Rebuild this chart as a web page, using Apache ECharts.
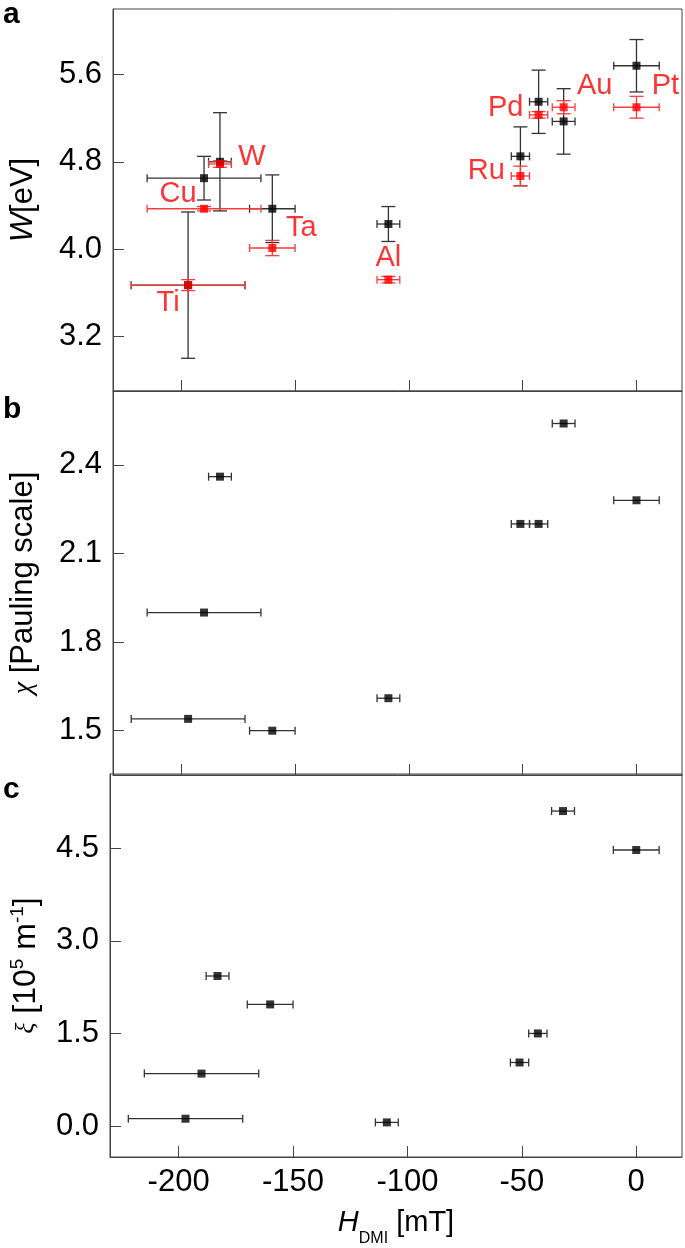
<!DOCTYPE html>
<html>
<head>
<meta charset="utf-8">
<script src="https://cdn.jsdelivr.net/npm/echarts@6/dist/echarts.min.js"></script>
<style>
html,body{margin:0;padding:0;background:#fff;}
#chart{width:685px;height:1248px;}
</style>
</head>
<body>
<div id="chart"></div>
<script>
// ---- data ----
const metals = ['Ti','Cu','W','Ta','Al','Ru','Pd','Au','Pt'];
const hDmi = [-197,-190,-183,-160,-109,-51,-43,-32,0];
const hDmiErr = [25,25,5,10,5,4,4,5,10];
const wMeasured = [3.67,4.65,4.80,4.37,4.23,4.85,5.35,5.17,5.68];
const wMeasuredErr = [0.67,0.20,0.45,0.31,0.16,0.27,0.29,0.30,0.24];
const wLiterature = [3.67,4.37,4.78,4.01,3.72,4.67,5.23,5.30,5.30];
const wLiteratureErr = [0.05,0.02,0.03,0.07,0.03,0.09,0.03,0.06,0.10];
const chi = [1.54,1.90,2.36,1.50,1.61,2.20,2.20,2.54,2.28];
const xi = [0.12,0.85,2.43,1.97,0.06,1.03,1.50,5.10,4.47];
const xTicks = [-200,-150,-100,-50,0];
const wTicks = [3.2,4.0,4.8,5.6];
const chiTicks = [1.5,1.8,2.1,2.4];
const xiTicks = [0,1.5,3.0,4.5];

// ---- styling ----
const FONT = 'Liberation Sans, Arial, sans-serif';
const AXIS_COLOR = '#444';
const labelOffsets = {Ti:[-20,18], Cu:[-26,-15], W:[32,-7], Ta:[29,-20], Al:[0,-22], Ru:[-34,-5], Pd:[-33,-7], Au:[31,-21], Pt:[29,-21]};

function errRender(color, lw, capHalfW, capHalfH) {
  return function (params, api) {
    const x = api.value(0), y = api.value(1), xe = api.value(2), ye = api.value(3);
    const style = {stroke: color, lineWidth: lw, fill: null};
    const ch = [];
    const ln = (a, b, c, d) => ch.push({type: 'line', shape: {x1: a, y1: b, x2: c, y2: d}, style: style});
    if (xe > 0) {
      const p1 = api.coord([x - xe, y]), p2 = api.coord([x + xe, y]);
      ln(p1[0], p1[1], p2[0], p2[1]);
      ln(p1[0], p1[1] - capHalfH, p1[0], p1[1] + capHalfH);
      ln(p2[0], p2[1] - capHalfH, p2[0], p2[1] + capHalfH);
    }
    if (ye > 0) {
      const q1 = api.coord([x, y - ye]), q2 = api.coord([x, y + ye]);
      ln(q1[0], q1[1], q2[0], q2[1]);
      ln(q1[0] - capHalfW, q1[1], q1[0] + capHalfW, q1[1]);
      ln(q2[0] - capHalfW, q2[1], q2[0] + capHalfW, q2[1]);
    }
    return {type: 'group', children: ch};
  };
}

const grids = [
  {left: 108, right: 3, top: 9, height: 382},
  {left: 108, right: 3, top: 391, height: 384},
  {left: 108, right: 3, top: 774, height: 383}
].map(g => Object.assign(g, {show: true, borderColor: AXIS_COLOR, borderWidth: 1, backgroundColor: 'transparent'}));

function xAxisFor(i, showLabels) {
  const ax = {
    type: 'value', gridIndex: i, min: -230, max: 20,
    axisLine: {show: true, onZero: false, lineStyle: {color: AXIS_COLOR, width: 1}},
    axisTick: {show: true, inside: true, length: 11, customValues: xTicks, lineStyle: {color: AXIS_COLOR, width: 1}},
    axisLabel: {show: showLabels, customValues: xTicks, margin: 10, color: '#000', fontSize: 31, fontFamily: FONT},
    splitLine: {show: false}
  };
  if (showLabels) {
    ax.name = '{it|H}{sub|DMI}{n| [mT]}';
    ax.nameLocation = 'middle';
    ax.nameGap = 42;
    ax.nameTextStyle = {
      color: '#000', fontFamily: FONT, fontSize: 29,
      rich: {
        it: {fontStyle: 'italic', fontSize: 29, fontFamily: FONT, lineHeight: 48, color: '#000'},
        n: {fontSize: 29, fontFamily: FONT, lineHeight: 48, color: '#000'},
        sub: {fontSize: 16, fontFamily: FONT, lineHeight: 16, verticalAlign: 'bottom', color: '#000'}
      }
    };
  }
  return ax;
}

function yAxisFor(i, min, max, ticks, name, nameGap, rich) {
  return {
    type: 'value', gridIndex: i, min: min, max: max,
    axisLine: {show: true, onZero: false, lineStyle: {color: AXIS_COLOR, width: 1}},
    axisTick: {show: true, inside: true, length: 11, customValues: ticks, lineStyle: {color: AXIS_COLOR, width: 1}},
    axisLabel: {customValues: ticks, margin: 11, color: '#000', fontSize: 31, fontFamily: FONT,
      formatter: v => v.toFixed(1)},
    splitLine: {show: false},
    name: name, nameLocation: 'middle', nameRotate: 90, nameGap: nameGap,
    nameTextStyle: {color: '#000', fontFamily: FONT, fontSize: 31, rich: rich}
  };
}

const errBlackA = hDmi.map((x, i) => [x, wMeasured[i], hDmiErr[i], wMeasuredErr[i]]);
const errRedA = hDmi.map((x, i) => [x, wLiterature[i], hDmiErr[i], wLiteratureErr[i]]);
const errB = hDmi.map((x, i) => [x, chi[i], hDmiErr[i], 0]);
const errC = hDmi.map((x, i) => [x, xi[i], hDmiErr[i], 0]);

const BLACK_ERR = '#333';
const RED_ERR = '#ff3a3a';

const option = {
  animation: false,
  backgroundColor: '#fff',
  grid: grids,
  xAxis: [xAxisFor(0, false), xAxisFor(1, false), xAxisFor(2, true)],
  yAxis: [
    yAxisFor(0, 2.7, 6.2, wTicks, '{it|W}[eV]', 74,
      {it: {fontStyle: 'italic', fontSize: 31, fontFamily: FONT, color: '#000'}}),
    yAxisFor(1, 1.35, 2.65, chiTicks, '{gr|χ} [Pauling scale]', 74,
      {gr: {fontStyle: 'italic', fontSize: 28, fontFamily: 'Liberation Serif, serif', color: '#000'}}),
    yAxisFor(2, -0.5, 5.7, xiTicks, '{gr|ξ}{n| [10}{sup|5}{n| m}{sup|-1}{n|]}', 66,
      {gr: {fontStyle: 'italic', fontSize: 26, fontFamily: 'Liberation Serif, serif', lineHeight: 36, color: '#000'},
       n: {fontSize: 32, fontFamily: FONT, lineHeight: 36, color: '#000'},
       sup: {fontSize: 19, fontFamily: FONT, lineHeight: 19, verticalAlign: 'top', color: '#000'}})
  ],
  graphic: [
    {type: 'text', left: 3, top: 0, style: {text: 'a', font: 'bold 30px ' + FONT, fill: '#000'}},
    {type: 'text', left: 3, top: 395, style: {text: 'b', font: 'bold 30px ' + FONT, fill: '#000'}},
    {type: 'text', left: 3, top: 775, style: {text: 'c', font: 'bold 30px ' + FONT, fill: '#000'}}
  ],
  series: [
    {type: 'custom', xAxisIndex: 0, yAxisIndex: 0, renderItem: errRender(BLACK_ERR, 1.3, 7, 4), data: errBlackA, encode: {x: 0, y: 1}, silent: true},
    {type: 'scatter', xAxisIndex: 0, yAxisIndex: 0, symbol: 'rect', symbolSize: 8, itemStyle: {color: '#000'},
      data: hDmi.map((x, i) => [x, wMeasured[i]])},
    {type: 'custom', xAxisIndex: 0, yAxisIndex: 0, renderItem: errRender(RED_ERR, 1.3, 7, 4), data: errRedA, encode: {x: 0, y: 1}, silent: true},
    {type: 'scatter', xAxisIndex: 0, yAxisIndex: 0, symbol: 'rect', symbolSize: 8, itemStyle: {color: '#ff0000'},
      data: hDmi.map((x, i) => ({
        value: [x, wLiterature[i]], name: metals[i],
        label: {show: true, position: 'inside', offset: labelOffsets[metals[i]], formatter: metals[i],
          color: '#ff0000', fontSize: 29, fontFamily: FONT}
      }))},
    {type: 'custom', xAxisIndex: 1, yAxisIndex: 1, renderItem: errRender(BLACK_ERR, 1.3, 7, 4), data: errB, encode: {x: 0, y: 1}, silent: true},
    {type: 'scatter', xAxisIndex: 1, yAxisIndex: 1, symbol: 'rect', symbolSize: 8, itemStyle: {color: '#000'},
      data: hDmi.map((x, i) => [x, chi[i]])},
    {type: 'custom', xAxisIndex: 2, yAxisIndex: 2, renderItem: errRender(BLACK_ERR, 1.3, 7, 4), data: errC, encode: {x: 0, y: 1}, silent: true},
    {type: 'scatter', xAxisIndex: 2, yAxisIndex: 2, symbol: 'rect', symbolSize: 8, itemStyle: {color: '#000'},
      data: hDmi.map((x, i) => [x, xi[i]])}
  ]
};

const chart = echarts.init(document.getElementById('chart'), null, {renderer: 'canvas'});
chart.setOption(option);
</script>
</body>
</html>
